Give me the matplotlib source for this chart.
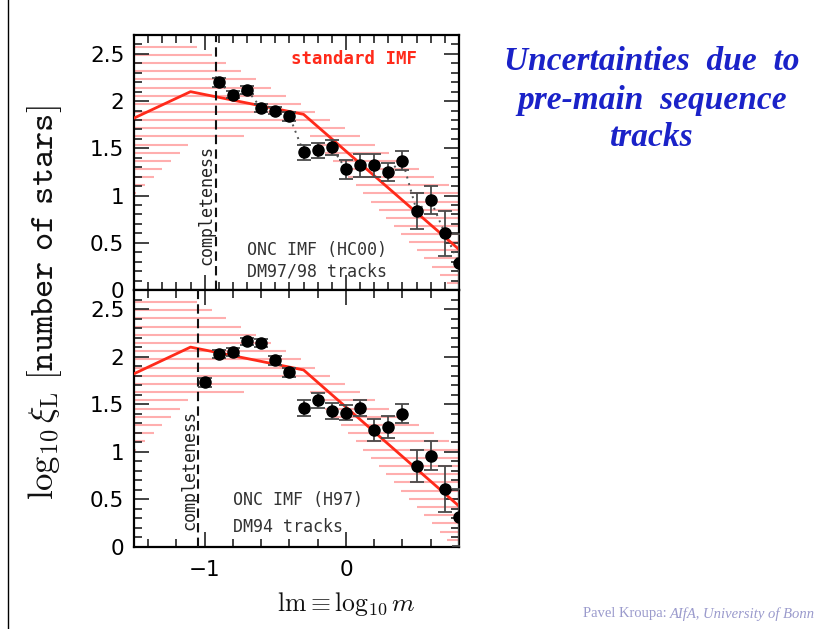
import numpy as np
import matplotlib
matplotlib.use("Agg")
import matplotlib.pyplot as plt
from matplotlib.ticker import MultipleLocator, FuncFormatter
from matplotlib.lines import Line2D

# ---- data -----------------------------------------------------------------
# ONC IMF, HC00 luminosity function with DM97/98 pre-main-sequence tracks
lm_hc00 = [-0.9, -0.8, -0.7, -0.6, -0.5, -0.4, -0.3, -0.2, -0.1, 0.0,
           0.1, 0.2, 0.3, 0.4, 0.5, 0.6, 0.7, 0.8]
xi_hc00 = [2.20, 2.07, 2.12, 1.925, 1.90, 1.84, 1.46, 1.48, 1.51, 1.28,
           1.32, 1.32, 1.25, 1.37, 0.84, 0.95, 0.60, 0.29]
err_hc00 = [0.05, 0.04, 0.04, 0.04, 0.04, 0.05, 0.08, 0.08, 0.08, 0.10,
            0.12, 0.12, 0.10, 0.10, 0.19, 0.15, 0.24, 0.30]

# ONC IMF, H97 luminosity function with DM94 tracks
lm_h97 = [-1.0, -0.9, -0.8, -0.7, -0.6, -0.5, -0.4, -0.3, -0.2, -0.1,
          0.0, 0.1, 0.2, 0.3, 0.4, 0.5, 0.6, 0.7, 0.8]
xi_h97 = [1.73, 2.03, 2.05, 2.16, 2.14, 1.96, 1.835, 1.46, 1.54, 1.43,
          1.41, 1.46, 1.23, 1.26, 1.40, 0.85, 0.96, 0.61, 0.31]
err_h97 = [0.05, 0.04, 0.04, 0.04, 0.04, 0.05, 0.05, 0.08, 0.08, 0.08,
           0.08, 0.08, 0.12, 0.12, 0.10, 0.17, 0.15, 0.24, 0.30]

# standard multi-power-law IMF (log-log, per unit log mass)
imf_lm = [-1.5, -1.1, -0.3, 0.8]
imf_xi = [1.82, 2.10, 1.86, 0.43]

# envelope of the standard IMF allowed by the uncertainties of the slopes
band_lo_lm = [-1.5, -1.1, -0.3, 0.8]
band_lo = [1.00, 1.56, 1.70, -0.06]
band_hi_lm = [-1.5, 0.8]
band_hi = [2.94, 1.05]

completeness = [-0.92, -1.045]
labels = [("ONC IMF (HC00)", "DM97/98 tracks"), ("ONC IMF (H97)", "DM94 tracks")]

# ---- figure ---------------------------------------------------------------
W, H = 838, 629
fig = plt.figure(figsize=(W / 100, H / 100), dpi=100)
fig.patch.set_facecolor("white")
plt.rcParams["mathtext.fontset"] = "cm"


def fbox(l, t, r, b):
    return [l / W, 1 - b / H, (r - l) / W, (b - t) / H]


ax_top = fig.add_axes(fbox(134, 35, 459, 290))
ax_bot = fig.add_axes(fbox(134, 290, 459, 547))

tick_font = dict(family="DejaVu Sans", size=15.5)
mono = dict(family="DejaVu Sans Mono", size=12)


def draw_band(ax):
    """Horizontal hatching between the lower and upper IMF envelopes."""
    grid = np.linspace(-1.5, 0.8, 4601)
    lo = np.interp(grid, band_lo_lm, band_lo)
    hi = np.interp(grid, band_hi_lm, band_hi)
    for v in np.arange(0.075, 2.6, 0.0862):
        inside = (lo <= v) & (hi >= v)
        if not inside.any():
            continue
        edges = np.diff(np.concatenate([[0], inside.astype(int), [0]]))
        starts = np.where(edges == 1)[0]
        stops = np.where(edges == -1)[0] - 1
        for s, e in zip(starts, stops):
            ax.hlines(v, grid[s], grid[e], color="#ffaeae", lw=1.5, zorder=1)


def style_axes(ax, bottom_labels):
    ax.set_xlim(-1.5, 0.8)
    ax.set_ylim(0, 2.7)
    ax.xaxis.set_major_locator(MultipleLocator(1.0))
    ax.xaxis.set_minor_locator(MultipleLocator(0.1))
    ax.yaxis.set_major_locator(MultipleLocator(0.5))
    ax.yaxis.set_minor_locator(MultipleLocator(0.1))
    ax.yaxis.set_major_formatter(FuncFormatter(lambda v, p: "%g" % v))
    ax.tick_params(which="both", direction="in", top=True, right=True,
                   width=1.2, color="#222222")
    ax.tick_params(which="major", length=11)
    ax.tick_params(which="minor", length=5.5)
    ax.tick_params(axis="y", which="major", pad=7)
    ax.tick_params(axis="x", which="major", pad=9)
    for sp in ax.spines.values():
        sp.set_linewidth(1.6)
    for lab in ax.get_yticklabels() + ax.get_xticklabels():
        lab.set_fontfamily(tick_font["family"])
        lab.set_fontsize(tick_font["size"])
    if not bottom_labels:
        ax.tick_params(labelbottom=False)


datasets = [(ax_top, lm_hc00, xi_hc00, err_hc00, True),
            (ax_bot, lm_h97, xi_h97, err_h97, False)]

for i, (ax, lm, xi, err, dotted) in enumerate(datasets):
    draw_band(ax)
    ax.plot(imf_lm, imf_xi, color="#ff2a1a", lw=2.0, zorder=3)
    if dotted:
        ax.plot(lm, xi, ls=(0, (1, 2.5)), color="#555555", lw=1.4, zorder=2)
    ax.errorbar(lm, xi, yerr=err, fmt="none", ecolor="#4a4a4a",
                elinewidth=1.3, capsize=5, capthick=1.3, zorder=4)
    ax.plot(lm, xi, "o", color="black", ms=8, zorder=5)
    ax.axvline(completeness[i], color="#111111", lw=1.5,
               ls=(0, (4.5, 2.5)), zorder=3)
    ax.text(completeness[i] - 0.065, 0.9 if i == 0 else 0.81, "completeness",
            rotation=90, ha="center", va="center", color="#222222", **mono)
    line1, line2 = labels[i]
    x0 = -0.70 if i == 0 else -0.80
    y1, y2 = (0.42, 0.20) if i == 0 else (0.49, 0.21)
    ax.text(x0, y1, line1, ha="left", va="center", color="#333333", **mono)
    ax.text(x0, y2, line2, ha="left", va="center", color="#333333", **mono)
    style_axes(ax, bottom_labels=(i == 1))

ax_top.text(-0.39, 2.45, "standard IMF", ha="left", va="center",
            color="#ff2a1a", family="DejaVu Sans Mono", size=12.5,
            fontweight="bold")

# lower panel has coarser minor ticks along its bottom edge
ax_bot.xaxis.set_minor_locator(MultipleLocator(0.2))

# ---- axis titles ----------------------------------------------------------
fig.text(45 / W, 1 - 303 / H,
         r"$\log_{10}\xi_{\rm L}\ \mathtt{[number\ of\ stars]}$",
         rotation=90, ha="center", va="center", size=25, color="#111111")
fig.text(346 / W, 1 - 604 / H, r"${\rm lm} \equiv \log_{10}m$",
         ha="center", va="center", size=18.5, color="#111111")

# ---- slide heading and footer ---------------------------------------------
head = dict(ha="center", va="center", color="#1a22c8", family="Liberation Serif",
            fontweight="bold", style="italic", size=24)
fig.text(652 / W, 1 - 62 / H, "Uncertainties  due  to", **head)
fig.text(652 / W, 1 - 101 / H, "pre-main  sequence", **head)
fig.text(652 / W, 1 - 137 / H, "tracks", **head)

t1 = fig.text(583 / W, 1 - 614 / H, "Pavel Kroupa: ", ha="left", va="center",
              color="#9a9acc", family="Liberation Serif", size=10.5)
ax_top.annotate("AIfA, University of Bonn", xy=(1, 0.5), xycoords=t1,
                ha="left", va="center", color="#9a9acc",
                family="Liberation Serif", size=10.5, style="italic",
                annotation_clip=False)

# slide frame edge
fig.add_artist(Line2D([8 / W, 8 / W], [0, 1], color="black", lw=1.0))

fig.savefig("out.png", dpi=100)
